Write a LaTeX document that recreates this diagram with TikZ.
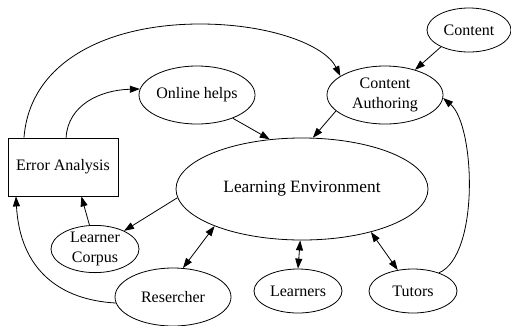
\documentclass[tikz,border=0pt]{standalone}
\usepackage{fontspec}
\setmainfont{Liberation Serif}
\usetikzlibrary{arrows.meta}
\usetikzlibrary{shapes.geometric}

\tikzset{
  elipse/.style={
    ellipse, draw=black, line width=0.8pt, inner sep=0pt,
    minimum width=116pt, minimum height=58pt,
    align=center, font=\fontsize{16}{19.5}\selectfont
  },
  elipsep/.style={
    elipse, minimum width=88pt, minimum height=44pt
  },
  caja/.style={
    rectangle, draw=black, line width=0.8pt, inner sep=0pt,
    minimum width=110pt, minimum height=58pt,
    align=center, font=\fontsize{16}{19.5}\selectfont
  },
  flecha/.style={-{Triangle[length=10pt,width=7pt]}, line width=0.8pt},
  flechad/.style={{Triangle[length=10pt,width=7pt]}-{Triangle[length=10pt,width=7pt]}, line width=0.8pt}
}

\begin{document}
\begin{tikzpicture}[x=1pt, y=-1pt]
  \useasboundingbox (0,0) rectangle (511,325);

  % Nodos
  \node[elipsep, minimum width=84pt] (content) at (469,30) {Content};
  \node[elipse] (authoring) at (385,95) {Content\\Authoring};
  \node[elipse] (helps) at (197,95) {Online helps};
  \node[caja] (error) at (63,167) {Error Analysis};
  \node[elipse, minimum width=252pt, minimum height=102pt,
        font=\fontsize{17.3}{20}\selectfont] (env) at (302,189) {Learning Environment};
  \node[elipsep, minimum height=42pt] (corpus) at (95,249) {Learner\\Corpus};
  \node[elipse] (res) at (173,297) {Resercher};
  \node[elipsep] (learners) at (298,291) {Learners};
  \node[elipsep] (tutors) at (413,291) {Tutors};

  % Conexiones
  \draw[flecha] (error.143) .. controls (30,60) and (110,24) .. (200,24)
                .. controls (270,24) and (325,45) .. (authoring.157);
  \draw[flecha] (error.84) .. controls (68,105) and (100,90) .. (helps.174);
  \draw[flecha] (helps.-33) -- (env.123);
  \draw[flecha] (content.211) -- (authoring.40);
  \draw[flecha] (authoring.198) -- (env.78);
  \draw[flecha] (tutors.35) .. controls (480,255) and (475,125) .. (authoring.-3);
  \draw[flecha] (env.184) -- (corpus.32);
  \draw[flecha] (corpus.103) -- (error.-58);
  \draw[flecha] (res.186) .. controls (60,300) and (20,270) .. (error.212);
  \draw[flechad] (res.71) -- (env.203);
  \draw[flechad] (learners.north) -- (env.268);
  \draw[flechad] (tutors.126) -- (env.-32);
\end{tikzpicture}
\end{document}
